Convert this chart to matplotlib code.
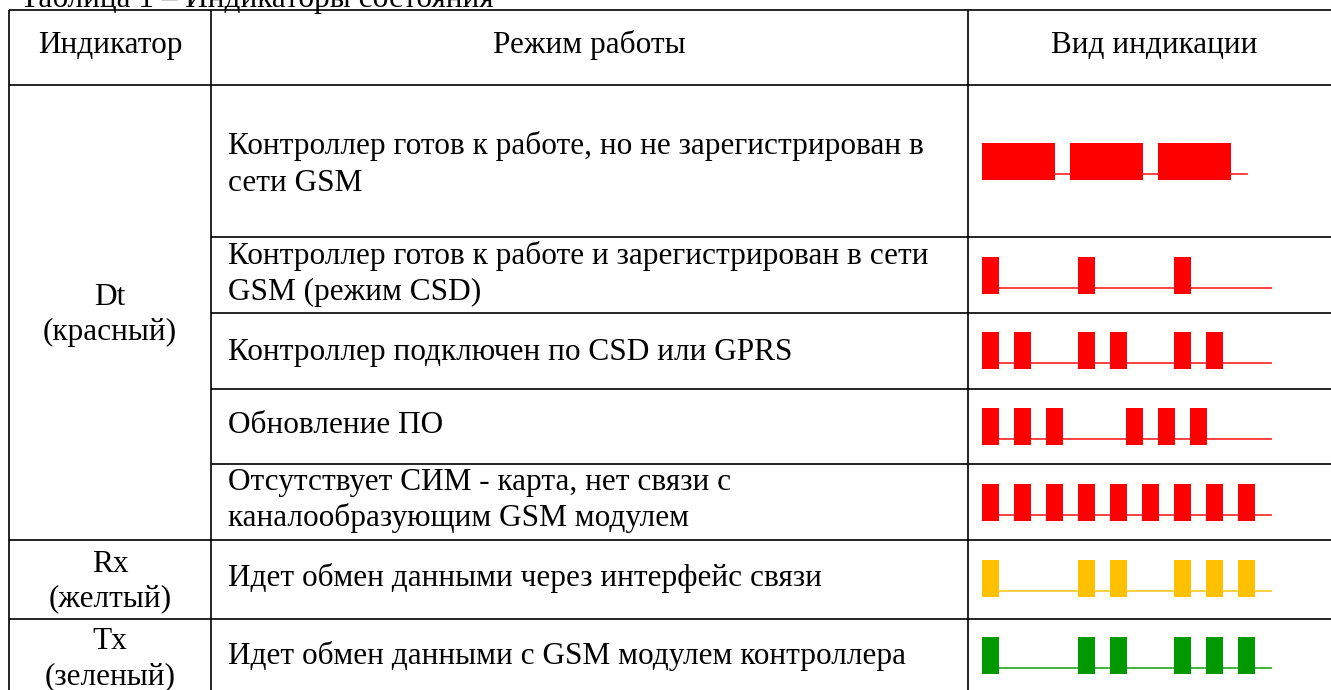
import matplotlib
matplotlib.use("Agg")
import matplotlib.pyplot as plt

W, H = 1331, 690
FONT = "Liberation Serif"
FS = 22.5

# --- data -------------------------------------------------------------
caption = "Таблица 1 – Индикаторы состояния"
headers = ["Индикатор", "Режим работы", "Вид индикации"]

indicators = [["Dt", "(красный)"], ["Rx", "(желтый)"], ["Tx", "(зеленый)"]]

modes = [
    ["Контроллер готов к работе, но не зарегистрирован в", "сети GSM"],
    ["Контроллер готов к работе и зарегистрирован в сети", "GSM (режим CSD)"],
    ["Контроллер подключен по CSD или GPRS"],
    ["Обновление ПО"],
    ["Отсутствует СИМ - карта, нет связи с", "каналообразующим GSM модулем"],
    ["Идет обмен данными через интерфейс связи"],
    ["Идет обмен данными с GSM модулем контроллера"],
]

# blink patterns, time in units of one short pulse period
pulse_starts = [
    [0, 2.75, 5.5],
    [0, 3, 6],
    [0, 1, 3, 4, 6, 7],
    [0, 1, 2, 4.5, 5.5, 6.5],
    [0, 1, 2, 3, 4, 5, 6, 7, 8],
    [0, 3, 4, 6, 7, 8],
    [0, 3, 4, 6, 7, 8],
]
pulse_width = [2.28, 0.53, 0.53, 0.53, 0.53, 0.53, 0.53]
line_end = [8.28, 9.03, 9.03, 9.03, 9.03, 9.03, 9.03]
led_colors = ["#ff0000"] * 5 + ["#ffc000", "#009900"]

# --- layout (pixels) --------------------------------------------------
col_x = [9, 211, 968]
top_y, head_y, bottom_y = 10, 85, 690
row_lines = [237, 313, 389, 464]      # inside Dt block, columns 2-3 only
group_lines = [540, 619]              # full width
mode_base = [[154, 191], [264, 300], [360], [433], [490, 526], [586], [664]]
ind_base = [[305, 340], [572, 606], [649, 684]]
wave_top = [143, 257, 332, 408, 484, 560, 637]
wave_x0, unit_px, pulse_px, base_off = 982, 32, 37, 6

fig = plt.figure(figsize=(W / 100, H / 100), dpi=100)
ax = fig.add_axes([0, 0, 1, 1])
ax.set_xlim(0, W)
ax.set_ylim(H, 0)
ax.axis("off")

lw = 1.2
ax.hlines([top_y, head_y] + group_lines, col_x[0], W, color="black", lw=lw)
ax.hlines(row_lines, col_x[1], W, color="black", lw=lw)
ax.vlines(col_x, top_y, bottom_y, color="black", lw=lw)

txt = dict(fontsize=FS, family=FONT, color="black", va="baseline")
ax.text(20, 7, caption, ha="left", **txt)
ax.text(110, 53, headers[0], ha="center", **txt)
ax.text(589.5, 53, headers[1], ha="center", **txt)
ax.text(1154, 53, headers[2], ha="center", **txt)

for lines, bases in zip(indicators, ind_base):
    for s, y in zip(lines, bases):
        ax.text(110, y, s, ha="center", **txt)

for lines, bases in zip(modes, mode_base):
    for s, y in zip(lines, bases):
        ax.text(228, y, s, ha="left", **txt)

# waveforms: one small axes per row, time on x, level on y
ymin = -base_off / (pulse_px - base_off)
for starts, w, end, c, ytop in zip(pulse_starts, pulse_width, line_end,
                                   led_colors, wave_top):
    wa = fig.add_axes([wave_x0 / W, 1 - (ytop + pulse_px) / H,
                       10 * unit_px / W, pulse_px / H])
    wa.set_xlim(0, 10)
    wa.set_ylim(ymin, 1)
    wa.axis("off")
    wa.plot([0, end], [0, 0], color=c, lw=1.3, alpha=0.8)
    wa.bar(starts, 1 - ymin, width=w, bottom=ymin, align="edge",
           color=c, linewidth=0)

fig.savefig("out.png", dpi=100)
